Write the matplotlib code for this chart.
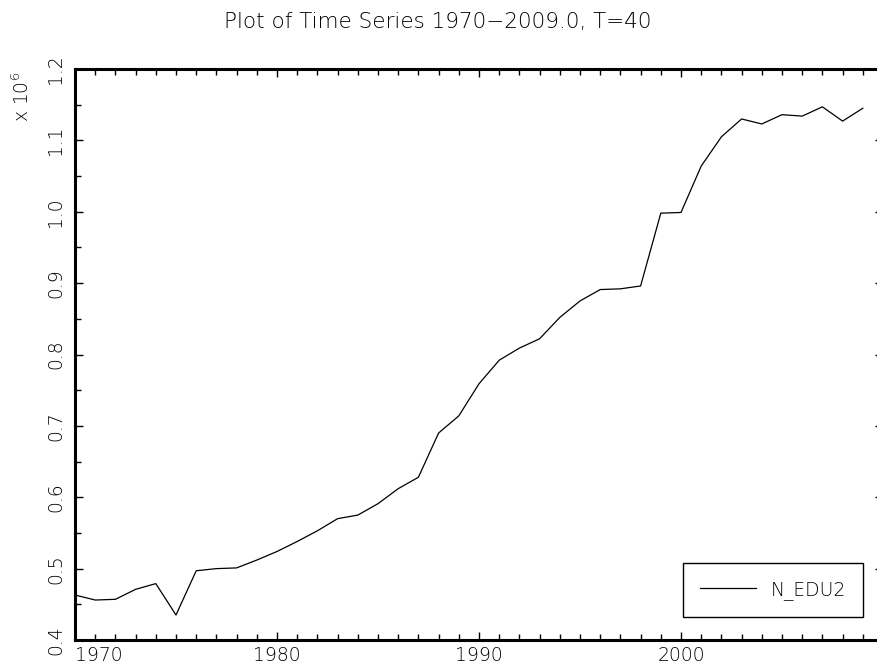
import numpy as np
import matplotlib
matplotlib.use("Agg")
import matplotlib.pyplot as plt
from matplotlib.ticker import MultipleLocator, FormatStrFormatter

# values in millions
years = np.arange(1970, 2010)
n_edu2 = [0.463, 0.456, 0.457, 0.471, 0.479, 0.435, 0.497, 0.500, 0.501, 0.512,
          0.524, 0.538, 0.553, 0.570, 0.575, 0.591, 0.612, 0.628, 0.690, 0.714,
          0.759, 0.792, 0.809, 0.822, 0.852, 0.875, 0.891, 0.892, 0.896, 0.998,
          0.999, 1.064, 1.105, 1.130, 1.123, 1.136, 1.134, 1.147, 1.127, 1.145]
series_name = "N_EDU2"
title = "Plot of Time Series 1970\u22122009.0, T=40"

plt.rcParams['font.family'] = 'DejaVu Sans'
plt.rcParams['font.weight'] = 'light'
FS = 13.5
W, H = 877, 668

fig = plt.figure(figsize=(W/100, H/100), dpi=100)
# right spine sits just past the image edge, as in the reference
ax = fig.add_axes([75/W, 1-640/H, 808/W, (640-69)/H])

ax.plot(years, n_edu2, color='black', lw=0.9, label=series_name)

ax.set_xlim(1970, 2010)
ax.set_ylim(0.4, 1.2)
ax.xaxis.set_major_locator(MultipleLocator(10))
ax.xaxis.set_minor_locator(MultipleLocator(1))
ax.yaxis.set_major_locator(MultipleLocator(0.1))
ax.yaxis.set_minor_locator(MultipleLocator(0.05))
ax.yaxis.set_major_formatter(FormatStrFormatter('%.1f'))

ax.tick_params(which='both', direction='in', top=True, right=True, width=1.0,
               labelsize=FS)
ax.tick_params(which='major', length=5.5)
ax.tick_params(which='minor', length=4)
ax.tick_params(axis='x', pad=4)
ax.tick_params(axis='y', pad=7)

for s in ax.spines.values():
    s.set_linewidth(2.2)

fig.canvas.draw()
for t in ax.get_xticklabels():
    if t.get_text() == '2010':
        t.set_visible(False)
    if t.get_text() == '1970':
        t.set_ha('left')
plt.setp(ax.get_yticklabels(), rotation=90, va='center')

fig.text(22/W, 1-97/H, r'x 10$^6$', rotation=90, ha='center', va='center',
         fontsize=FS)
fig.text(438/W, 1-22/H, title, ha='center', va='center', fontsize=FS+2)

ax.legend(loc='upper left', bbox_to_anchor=(683/W, 1-563/H),
          bbox_transform=fig.transFigure, fancybox=False, framealpha=1,
          edgecolor='black', fontsize=FS, handlelength=3.0, handletextpad=0.8,
          borderpad=0.9, borderaxespad=0)

fig.savefig("out.png", dpi=100)
